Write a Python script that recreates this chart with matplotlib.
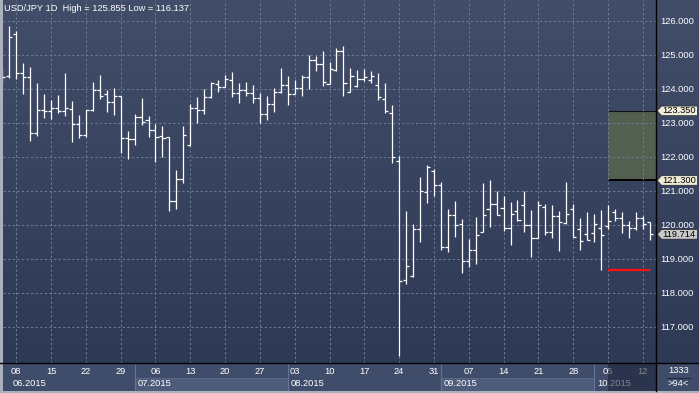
import numpy as np
import matplotlib
matplotlib.use("Agg")
import matplotlib.pyplot as plt
from matplotlib.patches import Rectangle, Polygon
from matplotlib.lines import Line2D

plt.rcParams['font.family'] = ['Liberation Sans', 'DejaVu Sans']

# ---------------- data (daily OHLC, trading-day index) ----------------
opens = [124.40, 124.36, 125.60, 124.45, 124.33, 122.69, 123.38, 123.33, 123.42, 123.35,
         123.39, 122.95, 122.63, 123.36, 123.95, 123.85, 123.60, 123.78, 122.54, 122.51,
         123.16, 123.08, 122.79, 122.61, 122.57, 120.69, 121.34, 122.33, 123.42, 123.36,
         123.75, 124.14, 124.04, 124.27, 123.88, 123.95, 123.86, 123.74, 123.25, 123.56,
         123.90, 124.12, 123.85, 124.02, 124.34, 124.85, 124.74, 124.14, 124.54, 125.10,
         123.91, 124.08, 124.29, 124.27, 124.10, 123.71, 123.29, 121.87, 118.37, 118.49,
         119.87, 120.95, 121.59, 121.18, 119.34, 120.28, 120.03, 118.93, 119.26, 119.78,
         120.46, 120.62, 120.49, 119.90, 120.40, 120.57, 120.00, 119.62, 120.52, 119.79,
         120.26, 120.05, 120.47, 119.88, 119.74, 119.75, 119.91, 119.96, 120.38, 120.21,
         120.00, 119.91, 120.21, 120.08]
highs = [124.60, 125.855, 125.71, 124.75, 124.64, 124.17, 123.84, 123.67, 123.81, 124.46,
         123.64, 123.23, 123.37, 124.21, 124.40, 123.96, 124.02, 123.78, 122.75, 123.25,
         123.72, 123.20, 122.96, 122.90, 122.57, 121.61, 122.90, 123.55, 123.75, 124.00,
         124.19, 124.25, 124.39, 124.49, 124.18, 124.20, 124.12, 123.86, 123.80, 124.03,
         124.60, 124.38, 124.27, 124.41, 125.00, 124.96, 125.10, 124.80, 125.21, 125.27,
         124.62, 124.54, 124.58, 124.51, 124.47, 124.16, 123.51, 122.03, 120.41, 120.03,
         121.41, 121.76, 121.65, 121.25, 120.47, 120.71, 120.18, 119.59, 120.24, 121.22,
         121.32, 120.98, 120.85, 120.66, 120.73, 121.00, 120.42, 120.69, 120.62, 120.57,
         120.39, 121.25, 120.62, 120.19, 120.36, 120.30, 120.42, 120.58, 120.47, 120.36,
         120.12, 120.36, 120.26, 120.08]
lows = [124.10, 124.32, 124.30, 123.84, 122.46, 122.62, 123.15, 123.11, 123.29, 123.21,
        122.44, 122.56, 122.57, 123.35, 123.70, 123.31, 123.23, 122.12, 121.93, 122.34,
        122.93, 122.59, 121.85, 122.00, 120.41, 120.47, 121.24, 122.30, 122.99, 123.25,
        123.74, 123.91, 124.04, 123.76, 123.57, 123.80, 123.59, 123.00, 123.07, 123.31,
        123.87, 123.52, 123.85, 123.78, 124.00, 124.52, 124.08, 124.14, 124.52, 123.78,
        123.90, 124.05, 124.22, 124.18, 123.66, 123.29, 121.80, 116.137, 118.25, 118.45,
        119.48, 120.63, 120.85, 119.24, 119.19, 119.63, 118.57, 118.76, 118.83, 119.77,
        119.94, 120.27, 119.82, 119.39, 120.10, 119.78, 119.05, 119.62, 119.70, 119.61,
        119.23, 120.03, 119.64, 119.26, 119.54, 119.49, 118.66, 119.88, 120.11, 119.75,
        119.61, 119.83, 119.88, 119.56]
closes = [124.35, 125.51, 124.45, 124.33, 122.69, 123.38, 123.33, 123.42, 123.35, 123.42,
          122.95, 122.63, 123.36, 123.95, 123.80, 123.60, 123.78, 122.54, 122.51, 123.16,
          123.01, 122.79, 122.57, 122.54, 120.71, 121.34, 122.63, 123.42, 123.36, 123.77,
          124.17, 124.04, 124.29, 123.88, 123.95, 123.88, 123.74, 123.25, 123.56, 123.90,
          124.12, 123.85, 124.02, 124.34, 124.85, 124.74, 124.20, 124.57, 125.10, 124.18,
          124.38, 124.29, 124.34, 124.38, 123.75, 123.33, 122.00, 118.33, 118.78, 119.87,
          120.99, 121.71, 121.18, 119.34, 120.28, 119.99, 118.93, 119.26, 119.70, 120.28,
          120.62, 120.28, 119.90, 120.31, 120.13, 120.00, 119.62, 120.57, 119.79, 120.26,
          120.07, 120.30, 119.65, 119.51, 119.56, 120.01, 119.71, 120.12, 120.21, 120.00,
          119.91, 120.21, 120.03, 119.714]
first_index = -1  # first bar (June 4) is mostly hidden behind the left edge

day_labels = ["08", "15", "22", "29", "06", "13", "20", "27", "03", "10",
              "17", "24", "31", "07", "14", "21", "28", "05", "12"]
monday_index = [1 + 5 * k for k in range(len(day_labels))]
month_labels = ["06.2015", "07.2015", "08.2015", "09.2015", "10.2015"]
month_start = [None, 18, 40, 62, 84]
price_ticks = [117, 118, 119, 120, 121, 122, 123, 124, 125, 126]

title = "USD/JPY 1D  High = 125.855 Low = 116.137"
zone_top, zone_bottom, zone_start = 123.350, 121.300, 86
red_level, red_start, red_end = 118.66, 86, 92
last_price = 119.714

# ---------------- layout helpers (pixel -> figure fraction) ----------------
W, H = 699, 393
def fx(x): return x / W
def fy(y): return 1 - y / H

PL, PR, PB = 2.7, 656.0, 363.0        # plot left / right / bottom pixels
XL, XR = -0.95, 92.9
YB, YT = 115.93, 126.61
FS = 6.7

fig = plt.figure(figsize=(W / 100, H / 100), dpi=100, facecolor="#aab1bd")

# gradient background (plot + right axis)
bg = fig.add_axes([fx(PL), fy(PB), (W - PL) / W, PB / H])
grad = np.linspace(0, 1, 256).reshape(-1, 1)
top_c = np.array([0x41, 0x4d, 0x69]) / 255
bot_c = np.array([0x2e, 0x39, 0x56]) / 255
img = top_c[None, None, :] * (1 - grad[..., None]) + bot_c[None, None, :] * grad[..., None]
bg.imshow(img, aspect="auto", extent=[0, 1, 0, 1])
bg.set_axis_off()

ax = fig.add_axes([fx(PL), fy(PB), (PR - PL) / W, PB / H])
ax.set_facecolor("none")
ax.set_xlim(XL, XR)
ax.set_ylim(YB, YT)
for s in ax.spines.values():
    s.set_visible(False)
ax.set_xticks(monday_index)
ax.set_xticklabels([])
ax.set_yticks(price_ticks)
ax.set_yticklabels([f"{v:.3f}" for v in price_ticks])
ax.yaxis.tick_right()
ax.tick_params(axis="x", length=0)
ax.tick_params(axis="y", length=0, pad=3, labelsize=FS, labelcolor="white")
ax.set_axisbelow(True)
ax.grid(True, color="#6a7a98", linestyle=(0, (2.2, 2.2)), linewidth=0.75)

# zone rectangle
ax.add_patch(Rectangle((zone_start, zone_bottom), XR - zone_start, zone_top - zone_bottom,
                       facecolor="#535f50", edgecolor="none", zorder=0.2))
ax.hlines([zone_top], zone_start, XR, color="#111111", lw=0.8, zorder=0.3)
ax.hlines([zone_bottom], zone_start, XR, color="#000000", lw=1.4, zorder=0.3)

# OHLC bars
idx = np.arange(first_index, first_index + len(opens))
tick = 0.45
ax.vlines(idx, lows, highs, color="white", lw=0.9, zorder=3)
ax.hlines(opens, idx - tick, idx, color="white", lw=0.9, zorder=3)
ax.hlines(closes, idx, idx + tick, color="white", lw=0.9, zorder=3)

# red level line
ax.hlines([red_level], red_start, red_end, color="#ff1010", lw=1.6, zorder=4)

# title
fig.text(fx(4), fy(8.5), title, color="white", fontsize=FS, ha="left", va="center")

# price tags on right axis
def tag(price, face):
    y = PB - (price - YB) / (YT - YB) * PB
    h = 4.7
    pts = [(657.3, y), (661.5, y - h), (697.3, y - h), (697.3, y + h), (661.5, y + h)]
    poly = Polygon([(fx(a), fy(b)) for a, b in pts], closed=True, transform=fig.transFigure,
                   facecolor=face, edgecolor="#222222", lw=0.4, zorder=10)
    fig.patches.append(poly)
    fig.text(fx(662), fy(y), f"{price:.3f}", color="black", fontsize=FS,
             ha="left", va="center", zorder=11)

tag(zone_top, "#efedd9")
tag(zone_bottom, "#efedd9")
tag(last_price, "#c9c9c9")

# ---------------- bottom date axis ----------------
bax = fig.add_axes([fx(PL), fy(391), (PR - PL) / W, 28 / H])
bax.set_xlim(XL, XR)
bax.set_ylim(391, 363)
bax.set_facecolor("#3f4d6a")
bax.set_xticks([]); bax.set_yticks([])
for s in bax.spines.values():
    s.set_visible(False)

starts = [XL] + month_start[1:]
ends = month_start[1:] + [XR]
for k, (a, b) in enumerate(zip(starts, ends)):
    if k % 2 == 1:
        bax.add_patch(Rectangle((a, 377.5), b - a, 14, facecolor="#4c5c7a",
                                edgecolor="#5e6e8c", lw=0.6, zorder=1))
for m in month_start[1:]:
    bax.vlines([m], 363.5, 391, color="#63739a", lw=0.8, zorder=2)

for lab, i in zip(day_labels, monday_index):
    bax.text(i, 371.0, lab, color="white", fontsize=FS, ha="center", va="center", zorder=3)
px_per_bar = (PR - PL) / (XR - XL)
for k, lab in enumerate(month_labels):
    if month_start[k] is None:
        xpos = (12.7 - PL) / px_per_bar + XL
    else:
        xpos = month_start[k] + 3.0 / px_per_bar
    bax.text(xpos, 383.5, lab, color="white", fontsize=FS, ha="left", va="center", zorder=3)
bax.add_patch(Rectangle((zone_start - 0.05, 363), XR - zone_start + 0.05, 28,
                        facecolor="#1a2134", alpha=0.55, edgecolor="none", zorder=5))

# bottom-right box
rax = fig.add_axes([fx(PR), fy(391), (W - PR) / W, 28 / H])
rax.set_xlim(PR, W); rax.set_ylim(391, 363)
rax.set_facecolor("#3f4d6a")
rax.set_xticks([]); rax.set_yticks([])
for s in rax.spines.values():
    s.set_visible(False)
rax.text(678.5, 370.5, "1333", color="white", fontsize=FS, ha="center", va="center")
rax.plot([667, 690], [377.5, 377.5], color="#222a3a", lw=0.8)
rax.text(678.5, 383.5, ">94<", color="white", fontsize=FS, ha="center", va="center")

# black separators
fig.lines.append(Line2D([fx(PR), fx(PR)], [fy(0), fy(391)], transform=fig.transFigure,
                        color="black", lw=1.0, zorder=20))
fig.lines.append(Line2D([fx(0), fx(W)], [fy(PB), fy(PB)], transform=fig.transFigure,
                        color="black", lw=1.0, zorder=20))

fig.savefig("out.png", dpi=100, facecolor=fig.get_facecolor())
